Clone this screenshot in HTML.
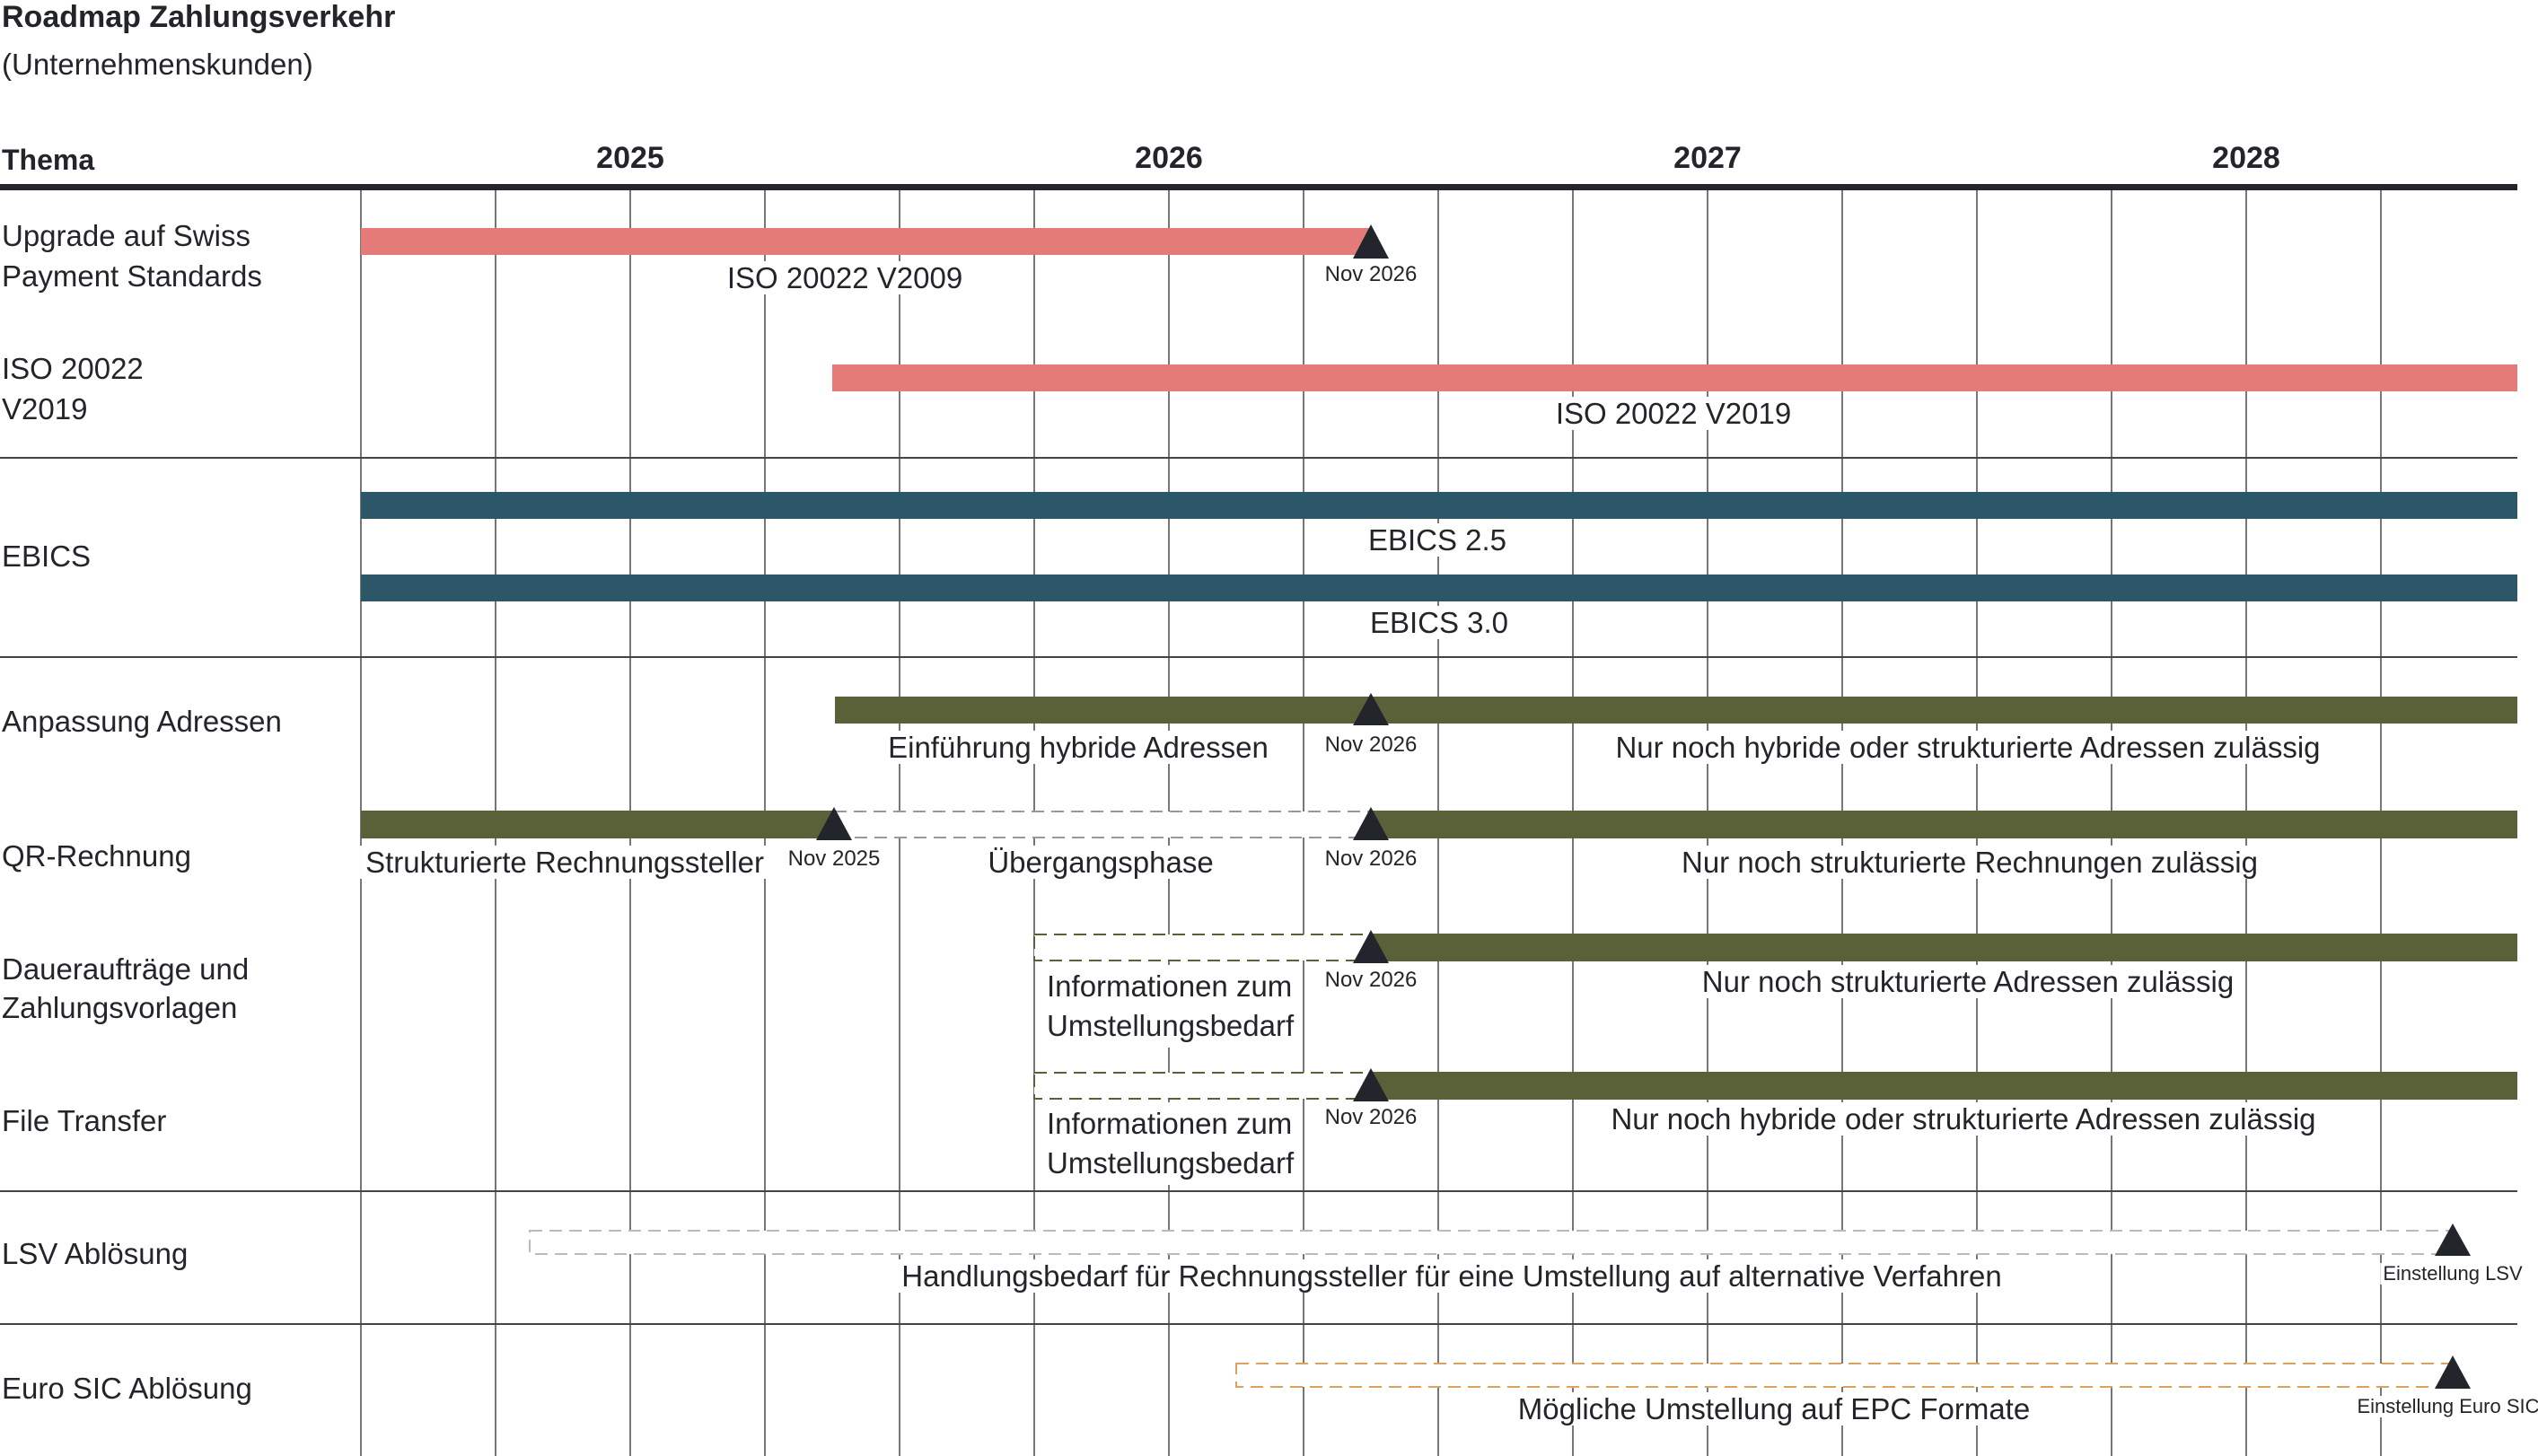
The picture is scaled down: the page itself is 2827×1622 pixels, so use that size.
<!DOCTYPE html>
<html><head><meta charset="utf-8"><style>
body{margin:0;width:2827px;height:1622px;background:#fff;position:relative;overflow:hidden;font-family:"Liberation Sans",sans-serif;color:#23252b}
svg{position:absolute;left:0;top:0}
.t{position:absolute;white-space:nowrap;font-size:33px;line-height:33px;background:#fff;padding:2px 6px}
.c{transform:translateX(-50%)}
.s{font-size:24px;line-height:24px;padding:1px 3px}
.xs{font-size:22px;line-height:22px;padding:1px 3px}
.n{position:absolute;white-space:nowrap;font-size:33px;line-height:33px}
</style></head><body>
<svg width="2827" height="1622">
<g stroke="#555" stroke-width="1.6">
<line x1="402" y1="212" x2="402" y2="1622"/><line x1="552" y1="212" x2="552" y2="1622"/><line x1="702" y1="212" x2="702" y2="1622"/><line x1="852" y1="212" x2="852" y2="1622"/><line x1="1002" y1="212" x2="1002" y2="1622"/><line x1="1152" y1="212" x2="1152" y2="1622"/><line x1="1302" y1="212" x2="1302" y2="1622"/><line x1="1452" y1="212" x2="1452" y2="1622"/><line x1="1602" y1="212" x2="1602" y2="1622"/><line x1="1752" y1="212" x2="1752" y2="1622"/><line x1="1902" y1="212" x2="1902" y2="1622"/><line x1="2052" y1="212" x2="2052" y2="1622"/><line x1="2202" y1="212" x2="2202" y2="1622"/><line x1="2352" y1="212" x2="2352" y2="1622"/><line x1="2502" y1="212" x2="2502" y2="1622"/><line x1="2652" y1="212" x2="2652" y2="1622"/>
</g>
<g stroke="#444" stroke-width="2">
<line x1="0" y1="510" x2="2804" y2="510"/><line x1="0" y1="732" x2="2804" y2="732"/><line x1="0" y1="1327" x2="2804" y2="1327"/><line x1="0" y1="1475" x2="2804" y2="1475"/>
</g>
<rect x="0" y="205" width="2804" height="7" fill="#22252b"/>
</svg>

<div class="n" style="left:2px;top:3px;font-weight:bold;font-size:34px">Roadmap Zahlungsverkehr</div>
<div class="n" style="left:2px;top:55px">(Unternehmenskunden)</div>
<div class="n" style="left:2px;top:162px;font-weight:bold;font-size:32px">Thema</div>
<div class="n c" style="left:702px;top:160px;font-weight:bold;font-size:34px">2025</div>
<div class="n c" style="left:1302px;top:160px;font-weight:bold;font-size:34px">2026</div>
<div class="n c" style="left:1902px;top:160px;font-weight:bold;font-size:34px">2027</div>
<div class="n c" style="left:2502px;top:160px;font-weight:bold;font-size:34px">2028</div>

<div class="n" style="left:2px;top:246px">Upgrade auf Swiss</div>
<div class="n" style="left:2px;top:291px">Payment Standards</div>
<div class="n" style="left:2px;top:394px">ISO 20022</div>
<div class="n" style="left:2px;top:439px">V2019</div>
<div class="n" style="left:2px;top:603px">EBICS</div>
<div class="n" style="left:2px;top:787px">Anpassung Adressen</div>
<div class="n" style="left:2px;top:937px">QR-Rechnung</div>
<div class="n" style="left:2px;top:1063px">Daueraufträge und</div>
<div class="n" style="left:2px;top:1106px">Zahlungsvorlagen</div>
<div class="n" style="left:2px;top:1232px">File Transfer</div>
<div class="n" style="left:2px;top:1380px">LSV Ablösung</div>
<div class="n" style="left:2px;top:1530px">Euro SIC Ablösung</div>

<div class="t c" style="left:941px;top:291px">ISO 20022 V2009</div>
<div class="t c" style="left:1864px;top:442px">ISO 20022 V2019</div>
<div class="t c" style="left:1601px;top:583px">EBICS 2.5</div>
<div class="t c" style="left:1603px;top:675px">EBICS 3.0</div>
<div class="t c" style="left:1201px;top:814px">Einführung hybride Adressen</div>
<div class="t c" style="left:2192px;top:814px">Nur noch hybride oder strukturierte Adressen zulässig</div>
<div class="t c" style="left:629px;top:942px">Strukturierte Rechnungssteller</div>
<div class="t c" style="left:1226px;top:942px">Übergangsphase</div>
<div class="t c" style="left:2194px;top:942px">Nur noch strukturierte Rechnungen zulässig</div>
<div class="t" style="left:1160px;top:1075px;line-height:44px">Informationen zum<br>Umstellungsbedarf</div>
<div class="t c" style="left:2192px;top:1075px">Nur noch strukturierte Adressen zulässig</div>
<div class="t" style="left:1160px;top:1228px;line-height:44px">Informationen zum<br>Umstellungsbedarf</div>
<div class="t c" style="left:2187px;top:1228px">Nur noch hybride oder strukturierte Adressen zulässig</div>
<div class="t c" style="left:1617px;top:1403px">Handlungsbedarf für Rechnungssteller für eine Umstellung auf alternative Verfahren</div>
<div class="t c" style="left:1976px;top:1551px">Mögliche Umstellung auf EPC Formate</div>

<div class="t s c" style="left:1527px;top:293px">Nov 2026</div>
<div class="t s c" style="left:1527px;top:817px">Nov 2026</div>
<div class="t s c" style="left:929px;top:944px">Nov 2025</div>
<div class="t s c" style="left:1527px;top:944px">Nov 2026</div>
<div class="t s c" style="left:1527px;top:1079px">Nov 2026</div>
<div class="t s c" style="left:1527px;top:1232px">Nov 2026</div>
<div class="t xs c" style="left:2732px;top:1407px">Einstellung LSV</div>
<div class="t xs c" style="left:2727px;top:1555px">Einstellung Euro SIC</div>

<svg width="2827" height="1622">
<rect x="402" y="254" width="1125" height="30" fill="#e57b78"/>
<rect x="927" y="406" width="1877" height="30" fill="#e57b78"/>
<rect x="402" y="548" width="2402" height="30" fill="#2b5768"/>
<rect x="402" y="640" width="2402" height="30" fill="#2b5768"/>
<rect x="930" y="776" width="1874" height="30" fill="#5a6139"/>
<rect x="402" y="903" width="527" height="31" fill="#5a6139"/>
<rect x="929" y="904" width="598" height="29" fill="#fff" stroke="#999" stroke-width="2" stroke-dasharray="14 8"/>
<rect x="1527" y="903" width="1277" height="31" fill="#5a6139"/>
<rect x="1152" y="1041" width="375" height="29" fill="#fff" stroke="#5a6139" stroke-width="2" stroke-dasharray="14 8"/>
<rect x="1527" y="1040" width="1277" height="31" fill="#5a6139"/>
<rect x="1152" y="1195" width="375" height="29" fill="#fff" stroke="#5a6139" stroke-width="2" stroke-dasharray="14 8"/>
<rect x="1527" y="1194" width="1277" height="31" fill="#5a6139"/>
<rect x="590" y="1371" width="2142" height="26" fill="#fff" stroke="#bbb" stroke-width="2" stroke-dasharray="14 8"/>
<rect x="1377" y="1519" width="1355" height="26" fill="#fff" stroke="#e0a060" stroke-width="2" stroke-dasharray="14 8"/>
<g fill="#22252b">
<polygon points="1527,250 1507,288 1547,288"/>
<polygon points="1527,772 1507,808 1547,808"/>
<polygon points="929,899 909,936 949,936"/>
<polygon points="1527,899 1507,936 1547,936"/>
<polygon points="1527,1036 1507,1073 1547,1073"/>
<polygon points="1527,1190 1507,1227 1547,1227"/>
<polygon points="2732,1363 2712,1399 2752,1399"/>
<polygon points="2732,1510 2712,1547 2752,1547"/>
</g>
</svg>
</body></html>
